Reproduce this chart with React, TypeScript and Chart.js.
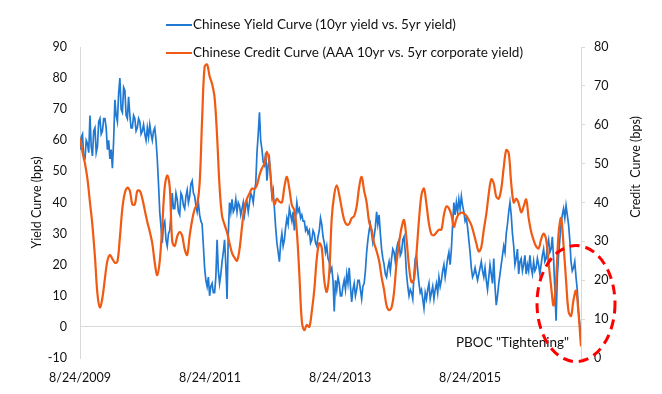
import React, { useEffect, useRef } from "react";
import { Chart, registerables } from "chart.js";

Chart.register(...registerables);

// ---------------- data ----------------
const START_DATE = "8/24/2009";
const YIELD_SAMPLE_DAYS = 7;
const CREDIT_SAMPLE_DAYS = 14;
const TICK_LABELS = ["8/24/2009", "8/24/2011", "8/24/2013", "8/24/2015"];

const SERIES_LABELS = [
  "Chinese Yield Curve (10yr yield vs. 5yr yield)",
  "Chinese Credit Curve (AAA 10yr vs. 5yr corporate yield)",
];
const LEFT_TITLE = "Yield Curve (bps)";
const RIGHT_TITLE = "Credit  Curve (bps)";
const ANNOTATION = 'PBOC "Tightening"';

const LEFT_AXIS = [-10, 90, 10]; // min, max, step
const RIGHT_AXIS = [0, 80, 10];

// 10yr - 5yr government yield spread (bps), weekly, left axis
const YIELD_CURVE = [
  57, 61, 62, 54, 54, 60, 59, 56, 68, 58, 55, 63, 64, 56, 58, 66, 67, 62, 63, 67,
  67, 64, 57, 60, 54, 57, 51, 60, 73, 68, 66, 75, 80, 70, 69, 77, 76, 68, 67, 74,
  68, 64, 64, 68, 67, 63, 64, 67, 66, 62, 63, 65, 62, 60, 64, 61, 65, 62, 60, 63,
  64, 60, 54, 46, 37, 32, 27, 33, 34, 28, 26, 30, 31, 36, 43, 38, 38, 43, 41, 37,
  36, 43, 42, 39, 38, 42, 44, 40, 42, 46, 47, 43, 42, 39, 37, 40, 36, 34, 33, 26,
  19, 15, 13, 16, 10, 13, 14, 11, 11, 16, 28, 18, 14, 17, 21, 24, 28, 20, 9, 30,
  40, 37, 41, 37, 38, 41, 37, 40, 39, 36, 38, 40, 36, 39, 40, 37, 40, 43, 42, 40,
  44, 46, 56, 62, 69, 60, 57, 53, 52, 56, 47, 52, 54, 48, 42, 44, 38, 32, 27, 24,
  21, 27, 30, 26, 28, 32, 35, 33, 38, 36, 34, 37, 31, 35, 40, 37, 38, 35, 36, 34,
  34, 31, 32, 30, 31, 27, 28, 31, 30, 27, 26, 29, 31, 35, 33, 29, 27, 24, 26, 22,
  21, 18, 19, 15, 5, 15, 12, 16, 14, 10, 10, 13, 15, 12, 17, 14, 19, 13, 8, 12,
  14, 10, 12, 15, 15, 12, 9, 13, 14, 18, 24, 28, 31, 33, 30, 27, 29, 32, 37, 33,
  36, 30, 25, 22, 20, 17, 16, 19, 21, 18, 22, 25, 24, 21, 25, 27, 28, 23, 24, 28,
  29, 24, 17, 13, 10, 12, 11, 9, 17, 22, 23, 18, 14, 11, 12, 9, 6, 11, 9, 12,
  14, 9, 11, 13, 9, 12, 14, 11, 16, 13, 15, 18, 20, 16, 19, 22, 24, 20, 25, 33,
  40, 36, 40, 37, 41, 38, 42, 39, 37, 34, 35, 32, 28, 24, 19, 16, 17, 19, 17, 15,
  17, 19, 21, 18, 16, 19, 15, 12, 16, 20, 17, 14, 22, 13, 7, 10, 14, 17, 20, 23,
  26, 24, 30, 33, 37, 40, 36, 30, 26, 20, 22, 25, 17, 21, 22, 18, 20, 23, 17, 20,
  18, 23, 19, 17, 21, 18, 19, 22, 20, 17, 20, 23, 25, 21, 22, 26, 28, 24, 25, 29,
  22, 12, 2, 16, 23, 28, 33, 36, 38, 35, 39, 36, 33, 28, 21, 18, 19, 21, 16, 12,
  5, 1, -5,
];

// AAA corporate 10yr - 5yr spread (bps), fortnightly, right axis
const CREDIT_CURVE = [
  56.5, 53, 50, 46, 40, 34, 26, 16.5, 13, 15.5, 20.5, 25, 26.5, 25.5, 24.5, 24.8, 31, 38.5,
  42.5, 43.8, 43, 39.5, 39.5, 43, 43, 41, 38, 35, 32.5, 29.5, 24.5, 21.3, 25, 34, 44, 47, 44,
  30, 28.8, 31.3, 32.4, 31.4, 28, 26.5, 31.5, 35.5, 38.3, 39.5, 45, 61.5, 75, 75.5, 72.5,
  70.5, 67, 57, 44, 36.5, 34.3, 32.3, 29.5, 27, 25.8, 25, 28, 33.8, 39, 41, 42.3, 43.6,
  43.5, 44.5, 47, 48.8, 50, 53, 50, 43, 39.5,
  41, 40.2, 40, 44, 46.6, 43.5, 39.3, 38, 32.5, 21.5, 9.5, 7.2, 8.5, 8, 12, 17.5, 25.6,
  29.5, 28.3, 20, 17, 22, 36, 42, 44.4, 42, 38.5, 35.5, 34.3, 34.5, 36, 36.5, 39, 44,
  46.6, 43, 40, 35, 33, 29.5,
  27.5, 25, 20.8, 17.5, 13.5, 12.3, 13, 17, 24.5, 29.5, 33.5, 35.5, 30.5, 23.5, 19.5,
  20.3, 27, 35.5, 42, 43.6, 39.5, 34.5, 31.8, 31.6, 32.3, 33, 33, 36.8, 39, 38.5, 36.8,
  33.7, 35.8, 37,
  37.4, 37.2, 36.6, 35.5, 34.2, 32, 29.5, 27.4, 28.5, 33, 37, 42.3, 46, 44.9, 41.5, 41,
  43.5, 49, 53.5, 52.7, 45, 40, 41, 39.8, 37.5, 39, 40.8, 36, 32.5, 30.3, 28.7, 28.2,
  30.5, 32, 30.5, 24.5, 18.5, 13.5, 20, 32, 36, 29, 20, 12, 10.8, 15, 17.3, 11.5, 3,
];

// ---------------- helpers ----------------
const BLUE = "#2079d2";
const ORANGE = "#f05a12";
const AXIS_GREY = "#d9d9d9";
const TEXT = "#111111";
const FONT = "Lato, 'Open Sans', sans-serif";

function dayOffset(label: string): number {
  const [m, d, y] = label.split("/").map(Number);
  const [m0, d0, y0] = START_DATE.split("/").map(Number);
  return Math.round((Date.UTC(y, m - 1, d) - Date.UTC(y0, m0 - 1, d0)) / 86400000);
}

const TICK_DAYS = TICK_LABELS.map(dayOffset);
const LAST_DAY = (YIELD_CURVE.length - 1) * YIELD_SAMPLE_DAYS;

function toPoints(values: number[], step: number) {
  return values.map((v, i) => ({ x: i * step, y: v }));
}

const overlayPlugin = {
  id: "overlay",
  afterDraw(chart: any) {
    const { ctx, scales } = chart;
    const x = scales.x;
    const yL = scales.y;
    const yR = scales.y1;
    ctx.save();

    // legend (two stacked rows)
    const colors = [BLUE, ORANGE];
    const rowY = [25, 53];
    ctx.font = `13.5px ${FONT}`;
    ctx.textBaseline = "middle";
    ctx.textAlign = "left";
    SERIES_LABELS.forEach((label, i) => {
      ctx.strokeStyle = colors[i];
      ctx.lineWidth = 2;
      ctx.beginPath();
      ctx.moveTo(166, rowY[i]);
      ctx.lineTo(192, rowY[i]);
      ctx.stroke();
      ctx.fillStyle = TEXT;
      ctx.fillText(label, 193, rowY[i]);
    });

    // right axis title (reads bottom-to-top)
    ctx.save();
    ctx.translate(636, 167);
    ctx.rotate(-Math.PI / 2);
    ctx.textAlign = "center";
    ctx.textBaseline = "middle";
    ctx.font = `12.5px ${FONT}`;
    ctx.fillStyle = TEXT;
    ctx.fillText(RIGHT_TITLE, 0, 0);
    ctx.restore();

    // annotation
    const lastX = x.getPixelForValue(LAST_DAY);
    ctx.font = `13.5px ${FONT}`;
    ctx.textAlign = "right";
    ctx.textBaseline = "middle";
    ctx.fillStyle = TEXT;
    ctx.fillText(ANNOTATION, lastX - 12, yL.getPixelForValue(-5));

    ctx.strokeStyle = "#ff0000";
    ctx.lineWidth = 3;
    ctx.setLineDash([10, 6]);
    ctx.beginPath();
    ctx.ellipse(lastX - 5, yR.getPixelForValue(14), 39, 58, 0, 0, Math.PI * 2);
    ctx.stroke();
    ctx.restore();
  },
};

export default function App() {
  const ref = useRef<HTMLCanvasElement | null>(null);

  useEffect(() => {
    if (!ref.current) return;
    const tickFont = { family: FONT, size: 12.5 };
    const chart = new Chart(ref.current, {
      type: "line",
      data: {
        datasets: [
          {
            label: SERIES_LABELS[1],
            data: toPoints(CREDIT_CURVE, CREDIT_SAMPLE_DAYS),
            yAxisID: "y1",
            borderColor: ORANGE,
            backgroundColor: ORANGE,
            borderWidth: 2.2,
            pointRadius: 0,
            tension: 0.35,
            order: 0,
          },
          {
            label: SERIES_LABELS[0],
            data: toPoints(YIELD_CURVE, YIELD_SAMPLE_DAYS),
            yAxisID: "y",
            borderColor: BLUE,
            backgroundColor: BLUE,
            borderWidth: 1.7,
            pointRadius: 0,
            tension: 0,
            order: 1,
          },
        ],
      },
      plugins: [overlayPlugin],
      options: {
        responsive: false,
        animation: false,
        devicePixelRatio: 1,
        layout: { padding: { top: 47, left: 0, right: 0, bottom: 0 } },
        plugins: { legend: { display: false }, tooltip: { enabled: false } },
        scales: {
          x: {
            type: "linear",
            min: 0,
            max: LAST_DAY,
            afterBuildTicks: (scale: any) => {
              scale.ticks = TICK_DAYS.map((v) => ({ value: v }));
            },
            afterFit: (scale: any) => {
              scale.height = 36;
            },
            grid: { display: false, drawTicks: false },
            border: { display: false },
            ticks: {
              autoSkip: false,
              maxRotation: 0,
              padding: 12,
              color: TEXT,
              font: tickFont,
              callback: (value: any) => {
                const idx = TICK_DAYS.indexOf(Number(value));
                return idx >= 0 ? TICK_LABELS[idx] : "";
              },
            },
          },
          y: {
            position: "left",
            min: LEFT_AXIS[0],
            max: LEFT_AXIS[1],
            afterFit: (scale: any) => {
              scale.width = 80;
            },
            ticks: {
              stepSize: LEFT_AXIS[2],
              padding: 13,
              color: TEXT,
              font: tickFont,
            },
            grid: {
              drawTicks: false,
              color: (c: any) => (c.tick && c.tick.value === 0 ? AXIS_GREY : "rgba(0,0,0,0)"),
              lineWidth: 1,
            },
            border: { display: true, color: AXIS_GREY, width: 1 },
            title: {
              display: true,
              text: LEFT_TITLE,
              color: TEXT,
              font: tickFont,
              padding: { top: 29, bottom: 0 },
            },
          },
          y1: {
            position: "right",
            min: RIGHT_AXIS[0],
            max: RIGHT_AXIS[1],
            afterFit: (scale: any) => {
              scale.width = 81;
            },
            ticks: {
              stepSize: RIGHT_AXIS[2],
              padding: 9,
              color: TEXT,
              font: tickFont,
            },
            grid: {
              drawOnChartArea: false,
              drawTicks: true,
              tickLength: 4,
              color: AXIS_GREY,
            },
            border: { display: true, color: AXIS_GREY, width: 1 },
          },
        },
      },
    } as any);
    return () => chart.destroy();
  }, []);

  return (
    <div style={{ position: "fixed", left: 0, top: 0, width: 662, height: 394, background: "#fff" }}>
      <canvas ref={ref} width={662} height={394} style={{ width: 662, height: 394 }} />
    </div>
  );
}
